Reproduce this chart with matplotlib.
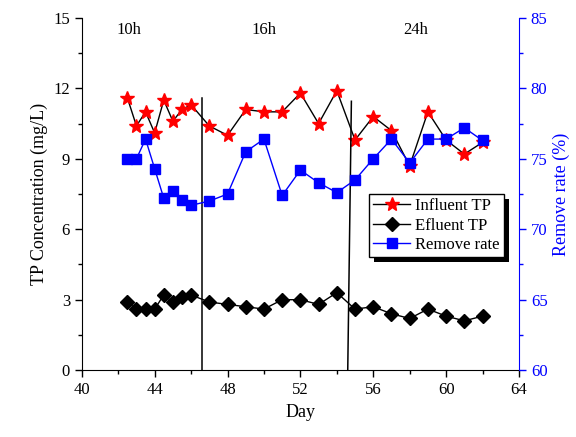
import matplotlib
matplotlib.use("Agg")
import matplotlib.pyplot as plt
from matplotlib.ticker import MultipleLocator
from matplotlib.patches import Rectangle

plt.rcParams['font.family'] = ['Liberation Serif', 'DejaVu Serif']
plt.rcParams['mathtext.fontset'] = 'stix'

day = [42.5, 43, 43.5, 44, 44.5, 45, 45.5, 46, 47, 48, 49, 50, 51, 52, 53, 54,
       55, 56, 57, 58, 59, 60, 61, 62]
influent_tp = [11.6, 10.4, 11.0, 10.1, 11.5, 10.6, 11.1, 11.3, 10.4, 10.0, 11.1, 11.0,
               11.0, 11.8, 10.5, 11.9, 9.8, 10.8, 10.2, 8.7, 11.0, 9.8, 9.2, 9.7]
efluent_tp = [2.9, 2.6, 2.6, 2.6, 3.2, 2.9, 3.1, 3.2, 2.9, 2.8, 2.7, 2.6,
              3.0, 3.0, 2.8, 3.3, 2.6, 2.7, 2.4, 2.2, 2.6, 2.3, 2.1, 2.3]
remove_rate = [75.0, 75.0, 76.4, 74.3, 72.2, 72.7, 72.1, 71.7, 72.0, 72.5, 75.5, 76.4,
               72.4, 74.2, 73.3, 72.6, 73.5, 75.0, 76.4, 74.7, 76.4, 76.4, 77.2, 76.3]

# phase separators (x at bottom, x at top, top y) and phase labels
sep_x_bottom = [46.6, 54.6]
sep_x_top = [46.6, 54.8]
sep_y_top = [11.6, 11.45]
phase_labels = ['10h', '16h', '24h']
phase_x = [42.6, 50.0, 58.35]
phase_y = [14.5, 14.5, 14.5]

fig = plt.figure(figsize=(5.76, 4.37), dpi=100)
ax = fig.add_axes([0.142, 0.153, 0.759, 0.806])
ax2 = ax.twinx()

l1, = ax.plot(day, influent_tp, '-', color='black', lw=1.0, marker='*', ms=10,
              mfc='red', mec='red', label='Influent TP')
l2, = ax.plot(day, efluent_tp, '-', color='black', lw=1.0, marker='D', ms=7,
              mfc='black', mec='black', label='Efluent TP')
l3, = ax2.plot(day, remove_rate, '-', color='blue', lw=1.0, marker='s', ms=7.5,
               mfc='blue', mec='blue', label='Remove rate')

for xb, xt, yt in zip(sep_x_bottom, sep_x_top, sep_y_top):
    ax.plot([xb, xt], [0, yt], color='black', lw=1.1)

for t, x, y in zip(phase_labels, phase_x, phase_y):
    ax.text(x, y, t, ha='center', va='center', fontsize=12)

ax.set_xlim(40, 64)
ax.set_ylim(0, 15)
ax2.set_ylim(60, 85)

ax.xaxis.set_major_locator(MultipleLocator(4))
ax.xaxis.set_minor_locator(MultipleLocator(2))
ax.yaxis.set_major_locator(MultipleLocator(3))
ax.yaxis.set_minor_locator(MultipleLocator(1.5))
ax2.yaxis.set_major_locator(MultipleLocator(5))
ax2.yaxis.set_minor_locator(MultipleLocator(2.5))

for a in (ax, ax2):
    a.spines['top'].set_visible(False)
ax.spines['right'].set_visible(False)
ax2.spines['left'].set_visible(False)
ax2.spines['bottom'].set_visible(False)
ax2.spines['right'].set_color('blue')

ax.tick_params(axis='both', which='major', direction='out', length=5, width=1, labelsize=12)
ax.tick_params(axis='both', which='minor', direction='out', length=3, width=1)
ax2.tick_params(axis='y', which='major', direction='out', length=5, width=1,
                colors='blue', labelsize=12)
ax2.tick_params(axis='y', which='minor', direction='out', length=3, width=1, colors='blue')

ax.set_xlabel('Day', fontsize=13)
ax.set_ylabel('TP Concentration (mg/L)', fontsize=13)
ax2.set_ylabel('Remove rate (%)', fontsize=13, color='blue')

leg = ax2.legend(handles=[l1, l2, l3], loc='upper left', bbox_to_anchor=(0.657, 0.5),
                 fontsize=12, frameon=True, fancybox=False, edgecolor='black',
                 facecolor='white', framealpha=1.0,
                 borderpad=0.25, labelspacing=0.2, handlelength=2.2,
                 handletextpad=0.3, borderaxespad=0.0)
leg.get_frame().set_linewidth(1.0)
leg.set_zorder(5)

fig.canvas.draw()
bb = leg.get_window_extent()
shadow = Rectangle((bb.x0 + 5, bb.y0 - 5), bb.width, bb.height, transform=None,
                   facecolor='black', edgecolor='none', zorder=4.9, clip_on=False)
ax2.add_patch(shadow)

fig.savefig('out.png', dpi=100)
